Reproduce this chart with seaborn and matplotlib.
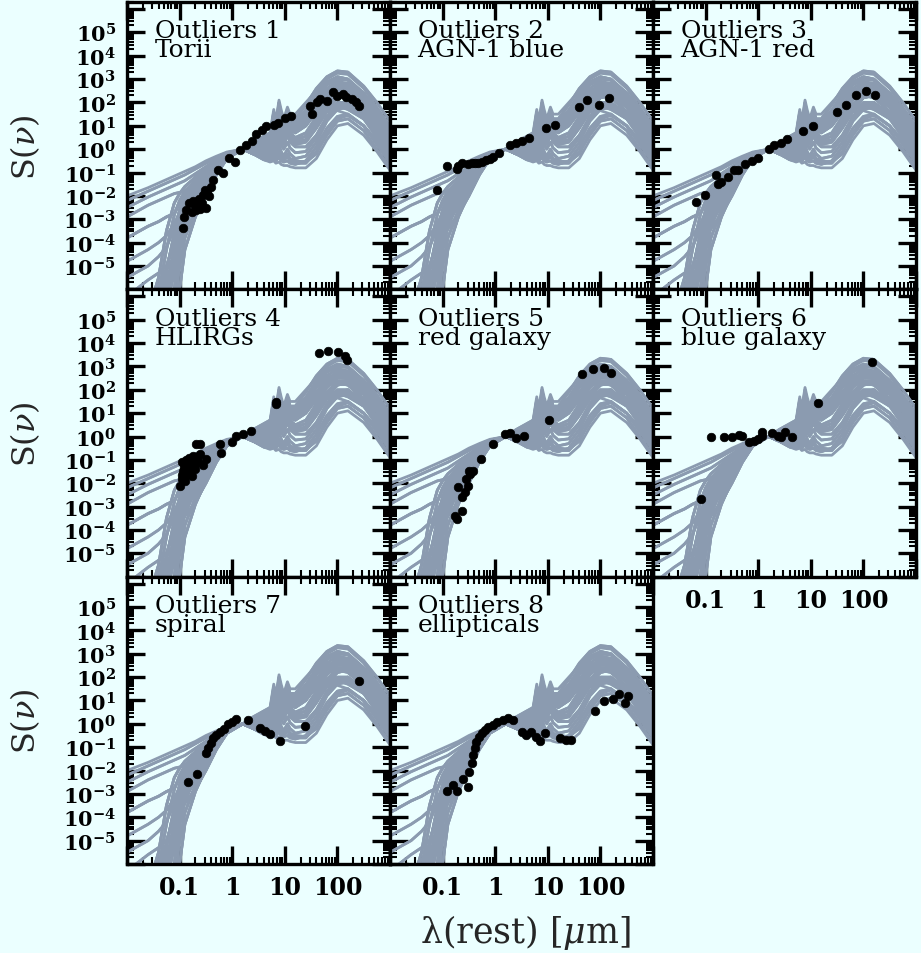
import numpy as np
import pandas as pd
import matplotlib
matplotlib.use("Agg")
import matplotlib.pyplot as plt
import matplotlib.ticker as mticker
import seaborn as sns

# ---- template SEDs: log10(lambda/um) grids and log10 S values ----
opt_x = [-2.0, -1.6, -1.4, -1.25, -1.1, -1.0, -0.9, -0.7, -0.5, -0.3, -0.1, 0.2]
ir_x = [0.4, 0.6, 0.72, 0.79, 0.83, 0.89, 0.93, 0.98, 1.05, 1.1, 1.2, 1.4,
        1.6, 1.8, 2.0, 2.2, 2.5, 2.75, 3.0]

# UV/optical parts (AGN-like ones start at the left edge)
o_a1 = [-2.0, -1.65, -1.45, -1.3, -1.15, -1.05, -0.95, -0.75, -0.5, -0.3, -0.12, 0.0]
o_a2 = [-2.2, -1.8, -1.6, -1.45, -1.3, -1.2, -1.1, -0.85, -0.6, -0.35, -0.15, 0.0]
o_a3 = [-2.5, -2.05, -1.85, -1.7, -1.55, -1.45, -1.35, -1.05, -0.75, -0.45, -0.2, 0.0]
o_a4 = [-2.9, -2.4, -2.2, -2.05, -1.9, -1.85, -1.8, -1.4, -1.0, -0.55, -0.2, 0.0]
o_a5 = [-3.8, -3.3, -3.1, -2.9, -2.75, -2.3, -1.9, -1.5, -1.05, -0.6, -0.25, 0.0]
o_a6 = [-4.8, -4.3, -4.0, -3.7, -3.2, -2.7, -2.2, -1.6, -1.1, -0.65, -0.25, 0.0]
o_a7 = [-5.5, -5.0, -4.6, -4.2, -3.4, -2.8, -2.3, -1.7, -1.15, -0.65, -0.25, 0.0]
o_a8 = [-6.3, -5.6, -5.3, -5.0, -4.0, -3.2, -2.6, -1.9, -1.2, -0.7, -0.3, 0.0]
o_g1 = [-7, -7, -5.5, -3.5, -2.3, -1.9, -1.6, -1.2, -0.8, -0.5, -0.2, 0.0]
o_g2 = [-7, -7, -6.2, -4.3, -2.8, -2.2, -1.8, -1.35, -0.9, -0.55, -0.25, 0.0]
o_g3 = [-7, -7, -7, -5.2, -3.6, -2.6, -2.1, -1.5, -1.0, -0.6, -0.25, 0.0]
o_g4 = [-7, -7, -7, -6.3, -4.2, -3.0, -2.4, -1.7, -1.1, -0.65, -0.25, 0.0]
o_g5 = [-7, -7, -7, -7, -5.0, -3.7, -2.9, -2.0, -1.3, -0.75, -0.3, 0.0]
o_g6 = [-7, -7, -7, -7, -6.0, -4.3, -3.3, -2.3, -1.5, -0.85, -0.3, 0.0]
o_g7 = [-7, -7, -7, -7, -6.8, -5.0, -3.8, -2.6, -1.7, -0.95, -0.35, 0.0]
o_g8 = [-7, -7, -7, -7, -7, -6.0, -4.3, -2.9, -1.9, -1.05, -0.4, 0.0]
o_g9 = [-7, -7, -6.8, -5.6, -4.6, -3.6, -3.1, -2.4, -1.6, -0.9, -0.35, 0.0]
o_g10 = [-7, -7, -7, -6.0, -4.8, -3.8, -3.4, -2.8, -2.0, -1.1, -0.4, 0.0]
o_g11 = [-7, -7, -7, -6.6, -5.4, -4.0, -3.0, -2.1, -1.35, -0.8, -0.3, 0.0]
o_g12 = [-7, -7, -6.5, -5.0, -3.9, -3.2, -2.6, -1.85, -1.2, -0.7, -0.28, 0.0]
o_g13 = [-7, -6.6, -5.8, -5.2, -4.5, -3.4, -2.7, -1.9, -1.25, -0.72, -0.28, 0.0]

# infrared parts
i_sb1 = [-0.1, 0.1, 0.6, 1.6, 1.0, 2.0, 1.5, 1.1, 1.7, 1.3, 1.3, 1.9, 2.6, 3.1, 3.35, 3.3, 2.7, 2.0, 1.2]
i_sb2 = [-0.1, 0.0, 0.5, 1.4, 0.9, 1.8, 1.4, 1.0, 1.5, 1.2, 1.1, 1.6, 2.3, 2.8, 3.1, 3.0, 2.4, 1.7, 0.9]
i_sb3 = [-0.05, 0.05, 0.4, 1.2, 0.8, 1.6, 1.2, 0.9, 1.3, 1.0, 1.0, 1.4, 2.1, 2.6, 2.9, 2.8, 2.2, 1.4, 0.6]
i_sb4 = [0.0, 0.2, 0.7, 1.7, 1.2, 2.1, 1.7, 1.3, 1.8, 1.5, 1.5, 2.0, 2.5, 2.9, 3.1, 3.0, 2.4, 1.6, 0.8]
i_mid1 = [-0.1, -0.1, 0.3, 1.1, 0.6, 1.4, 1.0, 0.7, 1.2, 0.9, 0.8, 1.2, 1.8, 2.4, 2.8, 2.8, 2.2, 1.5, 0.7]
i_mid2 = [-0.1, -0.15, 0.2, 1.0, 0.5, 1.3, 0.9, 0.6, 1.1, 0.8, 0.7, 1.0, 1.6, 2.2, 2.6, 2.6, 2.0, 1.2, 0.4]
i_mid3 = [-0.1, -0.05, 0.35, 1.2, 0.7, 1.5, 1.1, 0.8, 1.3, 1.0, 0.9, 1.3, 1.9, 2.5, 2.7, 2.6, 1.9, 1.0, 0.1]
i_sp1 = [-0.15, -0.2, 0.1, 0.9, 0.5, 1.2, 0.9, 0.6, 1.0, 0.7, 0.5, 0.7, 1.4, 2.1, 2.5, 2.5, 1.9, 1.1, 0.2]
i_sp2 = [-0.15, -0.25, 0.0, 0.7, 0.3, 1.0, 0.7, 0.4, 0.8, 0.5, 0.3, 0.4, 1.0, 1.7, 2.2, 2.3, 1.8, 1.1, 0.3]
i_sp3 = [-0.2, -0.3, -0.15, 0.5, 0.1, 0.8, 0.5, 0.2, 0.6, 0.3, 0.1, 0.1, 0.6, 1.4, 1.9, 2.0, 1.5, 0.8, 0.0]
i_sp4 = [-0.2, -0.3, -0.1, 0.6, 0.2, 0.9, 0.6, 0.3, 0.7, 0.4, 0.2, 0.3, 0.9, 1.6, 2.0, 2.0, 1.4, 0.6, -0.3]
i_ell1 = [-0.2, -0.45, -0.55, -0.5, -0.6, -0.55, -0.65, -0.7, -0.7, -0.75, -0.8, -0.8, -0.4, 0.4, 1.0, 1.1, 0.6, -0.1, -0.9]
i_ell2 = [-0.2, -0.4, -0.5, -0.4, -0.5, -0.35, -0.5, -0.55, -0.5, -0.6, -0.65, -0.5, 0.1, 0.9, 1.4, 1.5, 1.0, 0.3, -0.5]
i_ell3 = [-0.15, -0.35, -0.35, 0.0, -0.3, 0.2, -0.1, -0.3, 0.0, -0.2, -0.4, -0.3, 0.3, 1.2, 1.7, 1.8, 1.3, 0.5, -0.4]
i_ell4 = [-0.2, -0.45, -0.5, -0.3, -0.5, -0.2, -0.4, -0.5, -0.3, -0.5, -0.6, -0.6, -0.1, 0.6, 1.2, 1.3, 0.8, 0.0, -0.8]
i_qso1 = [0.3, 0.55, 0.7, 0.8, 0.85, 0.9, 0.95, 1.0, 1.1, 1.15, 1.25, 1.45, 1.65, 1.8, 1.85, 1.7, 1.3, 0.8, 0.1]
i_qso2 = [0.15, 0.35, 0.5, 0.6, 0.65, 0.7, 0.75, 0.8, 0.9, 0.95, 1.05, 1.25, 1.45, 1.6, 1.65, 1.5, 1.0, 0.4, -0.4]
i_qso3 = [0.2, 0.45, 0.6, 0.72, 0.78, 0.85, 0.9, 0.95, 1.05, 1.1, 1.2, 1.4, 1.6, 1.8, 1.9, 1.8, 1.4, 0.9, 0.2]
i_sey = [0.1, 0.35, 0.6, 1.1, 0.9, 1.3, 1.1, 1.0, 1.2, 1.15, 1.2, 1.5, 1.9, 2.2, 2.3, 2.2, 1.6, 0.9, 0.0]
i_x1 = [-0.05, 0.1, 0.55, 1.5, 1.0, 1.9, 1.5, 1.1, 1.6, 1.3, 1.2, 1.7, 2.4, 3.0, 3.25, 3.2, 2.6, 1.8, 1.0]
i_x2 = [-0.1, 0.0, 0.45, 1.3, 0.8, 1.7, 1.3, 0.9, 1.4, 1.1, 1.0, 1.5, 2.2, 2.75, 3.0, 2.95, 2.3, 1.5, 0.7]
i_x3 = [-0.1, -0.1, 0.25, 1.05, 0.55, 1.35, 0.95, 0.65, 1.15, 0.85, 0.75, 1.1, 1.7, 2.3, 2.7, 2.7, 2.1, 1.3, 0.5]
i_x4 = [-0.15, -0.2, 0.05, 0.8, 0.4, 1.1, 0.8, 0.5, 0.9, 0.6, 0.4, 0.55, 1.2, 1.9, 2.35, 2.4, 1.85, 1.1, 0.25]
i_x5 = [-0.2, -0.35, -0.25, 0.3, -0.1, 0.5, 0.2, 0.0, 0.3, 0.05, -0.15, -0.1, 0.5, 1.3, 1.8, 1.9, 1.4, 0.7, -0.2]
i_x6 = [-0.2, -0.4, -0.45, -0.2, -0.4, -0.1, -0.3, -0.4, -0.2, -0.4, -0.5, -0.55, -0.2, 0.7, 1.3, 1.45, 1.0, 0.2, -0.6]
i_x7 = [0.05, 0.25, 0.5, 0.9, 0.8, 1.1, 1.0, 0.9, 1.1, 1.05, 1.1, 1.4, 1.8, 2.2, 2.4, 2.35, 1.8, 1.1, 0.3]
i_x8 = [-0.15, -0.25, -0.05, 0.65, 0.25, 0.95, 0.65, 0.35, 0.75, 0.45, 0.25, 0.35, 0.95, 1.75, 2.25, 2.25, 1.6, 0.8, -0.1]

# which optical part goes with which infrared part
template_opt = [o_a1, o_a2, o_a2, o_a3, o_a3, o_a4, o_a4, o_a5, o_a5, o_a6, o_a7, o_a7, o_a8,
                o_g1, o_g1, o_g2, o_g2, o_g3, o_g3, o_g4, o_g4, o_g5, o_g5, o_g6, o_g6,
                o_g7, o_g7, o_g8, o_g8, o_g9, o_g9, o_g10, o_g10, o_g5, o_g6, o_g3,
                o_g2, o_g4, o_g5, o_g6, o_g7, o_g9, o_a5, o_g8, o_g1, o_g3, o_g10, o_a6,
                o_g4, o_a8, o_g11, o_g12, o_g13]
template_ir = [i_qso1, i_qso1, i_qso2, i_qso3, i_sey, i_sey, i_mid2, i_mid2, i_sp3, i_sp2,
               i_sp2, i_ell4, i_ell2,
               i_sb1, i_sb4, i_sb2, i_mid1, i_sb3, i_mid3, i_mid1, i_sp1, i_mid2, i_sp1,
               i_sp2, i_sb2, i_sp3, i_ell3, i_ell1, i_sp4, i_ell2, i_sb3, i_ell3, i_ell4,
               i_sb1, i_mid3, i_sp4,
               i_x1, i_x2, i_x3, i_x4, i_x5, i_x6, i_x7, i_x8, i_x2, i_x4, i_x5, i_x3,
               i_x8, i_x6, i_x3, i_x4, i_x8]

# ---- observed points per panel (log10 lambda, log10 S) ----
titles = ["Outliers 1\nTorii", "Outliers 2\nAGN-1 blue", "Outliers 3\nAGN-1 red",
          "Outliers 4\nHLIRGs", "Outliers 5\nred galaxy", "Outliers 6\nblue galaxy",
          "Outliers 7\nspiral", "Outliers 8\nellipticals"]

p1_x = [-0.94, -0.92, -0.82, -0.71, -0.63, -0.55, -0.48, -0.41, -0.62, -0.50, -0.77, -0.36,
        -0.27, -0.18, -0.06, 0.05, 0.14, 0.26, 0.37, 0.46, 0.56, 0.65, 0.79, 0.87, 1.00, 1.11,
        1.47, 1.51, 1.61, 1.66, 1.80, 1.91, 2.00, 2.10, 2.17, 2.27, 2.36, 2.42,
        -0.88, -0.74, -0.58, -0.45, -0.68, -0.52]
p1_y = [-3.37, -2.90, -2.29, -2.40, -2.15, -1.98, -1.81, -1.62, -2.58, -2.52, -2.69, -1.34,
        -0.91, -1.01, -0.38, -0.55, -0.05, 0.16, 0.37, 0.66, 0.80, 0.99, 1.04, 1.13, 1.33, 1.42,
        1.86, 1.51, 2.03, 2.15, 2.07, 2.45, 2.28, 2.37, 2.24, 2.15, 2.03, 1.86,
        -2.60, -2.20, -2.30, -2.00, -2.60, -1.75]

p2_x = [-1.10, -0.92, -0.73, -0.64, -0.51, -0.39, -0.26, -0.17, -0.04, 0.07, 0.28, 0.40,
        0.50, 0.64, 0.96, 1.13, 1.59, 1.75, 1.97, 2.16, -0.70, -0.45, -0.32, -0.10]
p2_y = [-1.76, -0.70, -0.84, -0.58, -0.62, -0.58, -0.55, -0.48, -0.34, -0.17, 0.16, 0.27,
        0.37, 0.47, 0.90, 1.04, 1.80, 2.12, 1.90, 2.20, -0.70, -0.60, -0.58, -0.42]

p3_x = [-1.18, -1.01, -0.80, -0.77, -0.71, -0.58, -0.46, -0.39, -0.25, -0.12, -0.01, 0.20,
        0.30, 0.43, 0.55, 0.85, 1.04, 1.50, 1.66, 1.86, 2.05, 2.22]
p3_y = [-2.26, -1.95, -1.09, -1.48, -1.41, -1.20, -0.91, -0.91, -0.62, -0.52, -0.38, 0.02,
        0.16, 0.27, 0.42, 0.76, 0.99, 1.59, 1.90, 2.33, 2.48, 2.33]

p4_x = [-0.99, -0.96, -0.93, -0.87, -0.80, -0.74, -0.84, -0.71, -0.65, -0.62, -0.49, -0.68,
        -0.62, -0.24, -0.22, -0.01, 0.08, 0.21, 0.35, -0.90, -0.77, -0.55, -0.96, 0.83, 0.84,
        1.65, 1.82, 2.01, 2.14, 2.18, -0.92, -0.85, -0.78, -0.88, -0.72, -0.82, -0.95, -0.66]
p4_y = [-2.11, -1.82, -1.46, -1.25, -1.03, -0.82, -1.60, -1.39, -1.10, -0.76, -0.98, -0.32,
        -0.32, -0.32, -0.71, -0.22, 0.04, 0.11, 0.25, -1.89, -1.68, -1.22, -1.10, 1.49, 1.39,
        3.56, 3.66, 3.61, 3.44, 3.27, -1.30, -1.50, -1.30, -1.00, -1.10, -0.90, -1.65, -0.90]

p5_x = [-0.77, -0.73, -0.64, -0.70, -0.64, -0.58, -0.51, -0.55, -0.48, -0.42, -0.49, -0.27,
        -0.04, 0.18, 0.29, 0.40, 0.54, 1.02, 1.65, 1.86, 2.06, 2.21]
p5_y = [-3.39, -3.53, -3.17, -2.17, -2.60, -2.39, -2.11, -1.82, -1.61, -1.47, -1.47, -0.96,
        -0.32, 0.10, 0.15, -0.08, 0.01, 0.70, 2.69, 2.90, 2.92, 2.71]

p6_x = [-1.09, -0.90, -0.65, -0.49, -0.36, -0.30, -0.17, -0.08, -0.01, 0.07, 0.08, 0.27,
        0.37, 0.43, 0.51, 0.65, 1.13, 2.17]
p6_y = [-2.67, -0.01, -0.01, -0.03, 0.08, 0.04, -0.25, -0.18, -0.11, 0.20, 0.04, 0.14,
        0.04, -0.03, 0.20, -0.03, 1.42, 3.17]

p7_x = [-0.84, -0.67, -0.49, -0.46, -0.41, -0.36, -0.30, -0.24, -0.16, -0.08, -0.01, 0.08,
        0.30, 0.52, 0.62, 0.71, 0.90, 1.38, 2.41]
p7_y = [-2.47, -2.16, -1.26, -1.05, -0.84, -0.62, -0.48, -0.34, -0.20, -0.02, 0.06, 0.20,
        0.16, -0.17, -0.31, -0.44, -0.74, -0.10, 1.85]

p8_x = [-0.91, -0.80, -0.72, -0.61, -0.51, -0.49, -0.45, -0.42, -0.39, -0.36, -0.31, -0.26,
        -0.20, -0.13, -0.05, 0.04, 0.14, 0.25, 0.34, 0.50, 0.59, 0.69, 0.77, 0.85, 0.94, 1.24,
        1.35, 1.45, 1.89, 2.06, 2.24, 2.36, 2.46, 2.52]
p8_y = [-2.87, -2.61, -2.87, -2.36, -2.72, -2.04, -1.69, -1.33, -1.05, -0.77, -0.55, -0.41,
        -0.27, -0.13, -0.03, 0.06, 0.16, 0.23, 0.16, -0.34, -0.48, -0.34, -0.55, -0.74, -0.41,
        -0.62, -0.70, -0.70, 0.56, 0.98, 1.06, 1.26, 0.88, 1.21]

points_x = [p1_x, p2_x, p3_x, p4_x, p5_x, p6_x, p7_x, p8_x]
points_y = [p1_y, p2_y, p3_y, p4_y, p5_y, p6_y, p7_y, p8_y]

x_ticks = [0.01, 0.1, 1, 10, 100, 1000]
x_ticklabels = ["", "0.1", "1", "10", "100", ""]
y_exponents = list(range(-6, 7))

BG = "#ebffff"
GRAY = "#8b9bb0"

sns.set_style("ticks")
plt.rcParams["font.family"] = "DejaVu Serif"
plt.rcParams["mathtext.fontset"] = "dejavuserif"

# long table of template curves
frames = []
for i, (o, ir) in enumerate(zip(template_opt, template_ir)):
    lx = np.array(opt_x + ir_x)
    ly = np.array(o + ir)
    frames.append(pd.DataFrame({"lam": 10 ** lx, "S": 10 ** ly, "tmpl": i}))
templates = pd.concat(frames, ignore_index=True)

fig, axes = plt.subplots(3, 3, figsize=(9.21, 9.54), dpi=100)
fig.patch.set_facecolor(BG)
fig.subplots_adjust(left=127 / 921, right=916 / 921, top=1 - 3 / 954,
                    bottom=1 - 865 / 954, wspace=0, hspace=0)

ylabels = []
for e in y_exponents:
    if abs(e) <= 5:
        ylabels.append(r"$\mathbf{10^{%d}}$" % e)
    else:
        ylabels.append("")

for k, ax in enumerate(axes.flat):
    if k == 8:
        ax.remove()
        continue
    row, col = divmod(k, 3)
    ax.set_facecolor(BG)
    ax.set_xscale("log")
    ax.set_yscale("log")

    sns.lineplot(data=templates, x="lam", y="S", units="tmpl", estimator=None,
                 sort=False, color=GRAY, lw=2.0, ax=ax, legend=False, zorder=1)
    sns.scatterplot(x=10 ** np.array(points_x[k]), y=10 ** np.array(points_y[k]),
                    color="black", s=38, edgecolor="black", linewidth=0.5,
                    ax=ax, zorder=3, legend=False)

    ax.set_xlim(0.01, 1000)
    ax.set_ylim(1e-6, 2e6)
    ax.set_xlabel("")
    ax.set_ylabel("")

    ax.xaxis.set_major_locator(mticker.FixedLocator(x_ticks))
    ax.xaxis.set_minor_locator(mticker.LogLocator(base=10, subs=np.arange(2, 10), numticks=50))
    ax.yaxis.set_major_locator(mticker.FixedLocator([10.0 ** e for e in y_exponents]))
    ax.yaxis.set_minor_locator(mticker.LogLocator(base=10, subs=np.arange(2, 10), numticks=50))

    if k in (5, 6, 7):
        ax.xaxis.set_major_formatter(mticker.FixedFormatter(x_ticklabels))
    else:
        ax.xaxis.set_major_formatter(mticker.NullFormatter())
    ax.xaxis.set_minor_formatter(mticker.NullFormatter())
    if col == 0:
        ax.yaxis.set_major_formatter(mticker.FixedFormatter(ylabels))
    else:
        ax.yaxis.set_major_formatter(mticker.NullFormatter())
    ax.yaxis.set_minor_formatter(mticker.NullFormatter())

    ax.tick_params(which="both", direction="in", top=True, right=True, colors="black")
    ax.tick_params(axis="y", labelsize=15)
    ax.tick_params(axis="x", labelsize=17)
    ax.tick_params(which="major", length=13, width=2.4, pad=8)
    ax.tick_params(which="minor", length=5, width=1.5)
    for lab in ax.get_xticklabels():
        lab.set_fontweight("bold")
    for sp in ax.spines.values():
        sp.set_linewidth(2.4)
        sp.set_color("black")

    ax.text(0.105, 0.94, titles[k], transform=ax.transAxes, ha="left", va="top",
            fontsize=18, linespacing=0.78, color="black")

# row labels and the common x label
for row in range(3):
    yc = 1 - (3 + 287.3 * row + 143.7) / 954
    fig.text(25 / 921, yc, r"S($\nu$)", rotation=90, ha="center", va="center",
             fontsize=23)
fig.text(525 / 921, 1 - 933 / 954, r"λ(rest) [$\mu$m]", ha="center", va="center",
         fontsize=25)

fig.savefig("out.png", dpi=100, facecolor=BG)
